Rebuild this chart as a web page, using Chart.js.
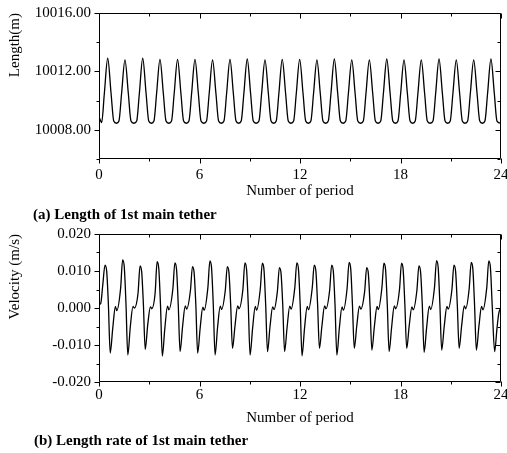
<!DOCTYPE html>
<html><head><meta charset="utf-8">
<script src="https://cdn.jsdelivr.net/npm/chart.js@4.4.1/dist/chart.umd.min.js"></script>
<style>
html,body{margin:0;padding:0;background:#fff;}
#wrap{position:relative;width:507px;height:453px;overflow:hidden;background:#fff;}
canvas{position:absolute;left:0;}
.cap{position:absolute;font:bold 15px "Liberation Serif","Times New Roman",serif;line-height:18px;white-space:nowrap;color:#000;}
</style></head><body>
<div id="wrap">
<canvas id="c1" width="507" height="220" style="top:0px"></canvas>
<canvas id="c2" width="507" height="233" style="top:220px"></canvas>
<div class="cap" style="left:33px;top:205px">(a) Length of 1st main tether</div>
<div class="cap" style="left:34px;top:431px">(b) Length rate of 1st main tether</div>
</div>
<script>
// ---- data ----
const xTickLabels = [0, 6, 12, 18, 24];
const lenTickLabels = [10008, 10012, 10016];
const velTickLabels = [-0.02, -0.01, 0, 0.01, 0.02];

// (a) length of 1st main tether, x = number of period
const lenX = [0.00, 0.16, 0.32,
0.52, 0.72, 0.88, 1.04, 1.19, 1.35,
1.55, 1.75, 1.91, 2.08, 2.25, 2.41,
2.61, 2.81, 2.97, 3.13, 3.28, 3.44,
3.64, 3.84, 4.00, 4.17, 4.33, 4.49,
4.69, 4.89, 5.05, 5.21, 5.37, 5.53,
5.73, 5.93, 6.09, 6.26, 6.42, 6.58,
6.78, 6.98, 7.14, 7.30, 7.46, 7.62,
7.82, 8.02, 8.18, 8.34, 8.49, 8.65,
8.85, 9.05, 9.21, 9.38, 9.55, 9.71,
9.91, 10.11, 10.27, 10.43, 10.58, 10.74,
10.94, 11.14, 11.30, 11.46, 11.62, 11.78,
11.98, 12.18, 12.34, 12.50, 12.65, 12.81,
13.01, 13.21, 13.37, 13.53, 13.69, 13.85,
14.05, 14.25, 14.41, 14.57, 14.73, 14.89,
15.09, 15.29, 15.45, 15.62, 15.78, 15.94,
16.14, 16.34, 16.50, 16.66, 16.82, 16.98,
17.18, 17.38, 17.54, 17.70, 17.85, 18.01,
18.21, 18.41, 18.57, 18.73, 18.88, 19.04,
19.24, 19.44, 19.60, 19.77, 19.94, 20.10,
20.30, 20.50, 20.66, 20.82, 20.97, 21.13,
21.33, 21.53, 21.69, 21.85, 22.01, 22.17,
22.37, 22.57, 22.73, 22.89, 23.04, 23.20,
23.40, 23.60, 23.76, 24.00];
const lenY = [10008.90, 10008.50, 10010.50,
10012.90, 10010.50, 10008.60, 10008.45, 10008.60, 10010.50,
10012.79, 10010.50, 10008.60, 10008.45, 10008.60, 10010.50,
10012.90, 10010.50, 10008.60, 10008.45, 10008.60, 10010.50,
10012.83, 10010.50, 10008.60, 10008.45, 10008.60, 10010.50,
10012.83, 10010.50, 10008.60, 10008.45, 10008.60, 10010.50,
10012.83, 10010.50, 10008.60, 10008.45, 10008.60, 10010.50,
10012.79, 10010.50, 10008.60, 10008.45, 10008.60, 10010.50,
10012.83, 10010.50, 10008.60, 10008.45, 10008.60, 10010.50,
10012.85, 10010.50, 10008.60, 10008.45, 10008.60, 10010.50,
10012.79, 10010.50, 10008.60, 10008.45, 10008.60, 10010.50,
10012.83, 10010.50, 10008.60, 10008.45, 10008.60, 10010.50,
10012.83, 10010.50, 10008.60, 10008.45, 10008.60, 10010.50,
10012.79, 10010.50, 10008.60, 10008.45, 10008.60, 10010.50,
10012.85, 10010.50, 10008.60, 10008.45, 10008.60, 10010.50,
10012.79, 10010.50, 10008.60, 10008.45, 10008.60, 10010.50,
10012.79, 10010.50, 10008.60, 10008.45, 10008.60, 10010.50,
10012.85, 10010.50, 10008.60, 10008.45, 10008.60, 10010.50,
10012.79, 10010.50, 10008.60, 10008.45, 10008.60, 10010.50,
10012.79, 10010.50, 10008.60, 10008.45, 10008.60, 10010.50,
10012.85, 10010.50, 10008.60, 10008.45, 10008.60, 10010.50,
10012.79, 10010.50, 10008.60, 10008.45, 10008.60, 10010.50,
10012.79, 10010.50, 10008.60, 10008.45, 10008.60, 10010.50,
10012.85, 10010.50, 10008.60, 10008.45];

// (b) length rate (velocity) of 1st main tether
const velX = [0.00, 0.10, 0.22,
0.36, 0.46, 0.56, 0.67, 0.82, 0.98, 1.06, 1.29,
1.41, 1.51, 1.61, 1.72, 1.87, 2.03, 2.11, 2.33,
2.45, 2.55, 2.65, 2.76, 2.91, 3.07, 3.15, 3.35,
3.47, 3.57, 3.67, 3.78, 3.93, 4.09, 4.17, 4.41,
4.53, 4.63, 4.73, 4.84, 4.99, 5.15, 5.23, 5.46,
5.58, 5.68, 5.78, 5.89, 6.04, 6.20, 6.28, 6.50,
6.62, 6.72, 6.82, 6.93, 7.08, 7.24, 7.32, 7.54,
7.66, 7.76, 7.86, 7.97, 8.12, 8.28, 8.36, 8.59,
8.71, 8.81, 8.91, 9.02, 9.17, 9.33, 9.41, 9.63,
9.75, 9.85, 9.95, 10.06, 10.21, 10.37, 10.45, 10.65,
10.77, 10.87, 10.97, 11.08, 11.23, 11.39, 11.47, 11.69,
11.81, 11.91, 12.01, 12.12, 12.27, 12.43, 12.51, 12.73,
12.85, 12.95, 13.05, 13.16, 13.31, 13.47, 13.55, 13.77,
13.89, 13.99, 14.09, 14.20, 14.35, 14.51, 14.59, 14.81,
14.93, 15.03, 15.13, 15.24, 15.39, 15.55, 15.63, 15.86,
15.98, 16.08, 16.18, 16.29, 16.44, 16.60, 16.68, 16.89,
17.01, 17.11, 17.21, 17.32, 17.47, 17.63, 17.71, 17.94,
18.06, 18.16, 18.26, 18.37, 18.52, 18.68, 18.76, 18.98,
19.10, 19.20, 19.30, 19.41, 19.56, 19.72, 19.80, 20.03,
20.15, 20.25, 20.35, 20.46, 20.61, 20.77, 20.85, 21.07,
21.19, 21.29, 21.39, 21.50, 21.65, 21.81, 21.89, 22.10,
22.22, 22.32, 22.42, 22.53, 22.68, 22.84, 22.92, 23.15,
23.27, 23.37, 23.47, 23.62, 23.76, 23.87, 24.00];
const velY = [0.0010, 0.0012, 0.0060,
0.0116, 0.0099, 0.0010, -0.0122, -0.0055, 0.0004, -0.0007, 0.0053,
0.0130, 0.0110, 0.0012, -0.0127, -0.0050, 0.0004, 0.0000, 0.0040,
0.0114, 0.0097, 0.0010, -0.0112, -0.0045, 0.0003, -0.0002, 0.0040,
0.0125, 0.0106, 0.0010, -0.0130, -0.0055, 0.0005, -0.0005, 0.0052,
0.0122, 0.0104, 0.0010, -0.0118, -0.0050, 0.0006, -0.0003, 0.0048,
0.0112, 0.0095, 0.0010, -0.0122, -0.0054, 0.0002, -0.0006, 0.0055,
0.0127, 0.0108, 0.0012, -0.0127, -0.0052, 0.0005, -0.0004, 0.0048,
0.0112, 0.0095, 0.0010, -0.0109, -0.0048, 0.0006, -0.0002, 0.0050,
0.0122, 0.0104, 0.0010, -0.0127, -0.0055, 0.0004, -0.0006, 0.0052,
0.0121, 0.0103, 0.0010, -0.0118, -0.0050, 0.0003, -0.0004, 0.0045,
0.0109, 0.0093, 0.0008, -0.0118, -0.0052, 0.0005, -0.0003, 0.0055,
0.0122, 0.0104, 0.0010, -0.0129, -0.0055, 0.0004, -0.0005, 0.0054,
0.0116, 0.0099, 0.0010, -0.0109, -0.0048, 0.0006, -0.0002, 0.0048,
0.0116, 0.0099, 0.0010, -0.0127, -0.0054, 0.0003, -0.0006, 0.0052,
0.0123, 0.0105, 0.0010, -0.0109, -0.0048, 0.0005, -0.0003, 0.0045,
0.0109, 0.0093, 0.0008, -0.0114, -0.0050, 0.0004, -0.0004, 0.0055,
0.0121, 0.0103, 0.0010, -0.0118, -0.0052, 0.0006, -0.0002, 0.0050,
0.0121, 0.0103, 0.0010, -0.0109, -0.0048, 0.0003, -0.0005, 0.0048,
0.0114, 0.0097, 0.0010, -0.0120, -0.0053, 0.0005, -0.0004, 0.0056,
0.0128, 0.0109, 0.0012, -0.0114, -0.0050, 0.0004, -0.0003, 0.0050,
0.0116, 0.0099, 0.0010, -0.0109, -0.0048, 0.0006, -0.0002, 0.0052,
0.0123, 0.0105, 0.0010, -0.0114, -0.0050, 0.0004, -0.0005, 0.0055,
0.0127, 0.0108, 0.0012, -0.0118, -0.0055, -0.0014, 0.0002];

// ---- drawing ----
Chart.defaults.font.family = '"Liberation Serif","Times New Roman",serif';
Chart.defaults.font.size = 15;
Chart.defaults.color = '#000';

const near = (list, v) => list.some(l => Math.abs(l - v) < 1e-9);

const frameTicks = {
  id: 'frameTicks',
  afterDraw(chart, args, opts) {
    const {ctx, chartArea: a, scales: {x, y}} = chart;
    const L = Math.round(a.left) + 0.5, R = Math.round(a.right) - 0.5;
    const T = Math.round(a.top) + 0.5, B = Math.round(a.bottom) - 0.5;
    ctx.save();
    ctx.strokeStyle = '#000';
    ctx.lineWidth = 1;
    ctx.beginPath();
    ctx.rect(L, T, R - L, B - T);
    x.ticks.forEach(t => {
      const px = Math.round(x.getPixelForValue(t.value)) + 0.5;
      const len = near(opts.xMajor, t.value) ? 5 : 3;
      ctx.moveTo(px, B); ctx.lineTo(px, B + len);
      ctx.moveTo(px, T); ctx.lineTo(px, T + len);
    });
    y.ticks.forEach(t => {
      const py = Math.round(y.getPixelForValue(t.value)) + 0.5;
      const len = near(opts.yMajor, t.value) ? 5 : 3;
      ctx.moveTo(L, py); ctx.lineTo(L - len, py);
      ctx.moveTo(R, py); ctx.lineTo(R - len, py);
    });
    ctx.stroke();
    ctx.restore();
  }
};

function makeChart(id, xs, ys, cfg) {
  const pts = xs.map((v, i) => ({x: v, y: ys[i]}));
  return new Chart(document.getElementById(id), {
    type: 'line',
    data: {datasets: [{data: pts, borderColor: '#000', borderWidth: 1.3, pointRadius: 0,
      cubicInterpolationMode: 'monotone', fill: false}]},
    plugins: [frameTicks],
    options: {
      responsive: false, animation: false, devicePixelRatio: 1,
      layout: {padding: {top: cfg.padTop, right: 6, left: 0, bottom: 0}},
      plugins: {legend: {display: false}, tooltip: {enabled: false},
        frameTicks: {xMajor: xTickLabels, yMajor: cfg.yMajor}},
      scales: {
        x: {type: 'linear', min: 0, max: 24,
          grid: {display: false, drawTicks: false}, border: {display: false},
          ticks: {stepSize: 3, autoSkip: false, maxRotation: 0, padding: cfg.xPad,
            callback: v => near(xTickLabels, v) ? String(Math.round(v)) : ''},
          title: {display: true, text: 'Number of period', padding: {top: 0, bottom: cfg.xTitlePad}},
          afterFit: s => { s.height = cfg.xHeight; s.paddingLeft = 0; s.paddingRight = 0; }
        },
        y: {type: 'linear', min: cfg.yMin, max: cfg.yMax,
          grid: {display: false, drawTicks: false}, border: {display: false},
          ticks: {stepSize: cfg.yStep, autoSkip: false, padding: 8,
            callback: v => near(cfg.yMajor, v) ? (Math.abs(v) < 1e-12 ? (0).toFixed(cfg.dec) : v.toFixed(cfg.dec)) : ''},
          title: {display: true, text: cfg.yTitle, align: 'end', padding: {top: 6, bottom: 0}},
          afterFit: s => { s.width = 99; s.paddingTop = 0; s.paddingBottom = 0; }
        }
      }
    }
  });
}

makeChart('c1', lenX, lenY, {padTop: 13, xHeight: 61, xPad: 7, xTitlePad: 20,
  yMin: 10006, yMax: 10016, yStep: 2, yMajor: lenTickLabels, dec: 2, yTitle: 'Length(m)'});
makeChart('c2', velX, velY, {padTop: 14, xHeight: 71, xPad: 4, xTitlePad: 26,
  yMin: -0.02, yMax: 0.02, yStep: 0.005, yMajor: velTickLabels, dec: 3, yTitle: 'Velocity (m/s)'});
</script>
</body></html>
